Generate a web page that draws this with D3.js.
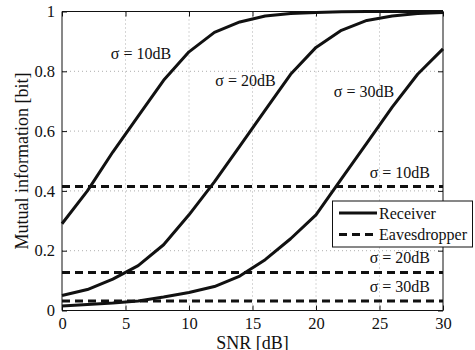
<!DOCTYPE html>
<html><head><meta charset="utf-8">
<script src="https://cdn.jsdelivr.net/npm/d3@7"></script>
<style>body{margin:0;background:#fff}svg{display:block}text{font-family:"Liberation Serif","Times New Roman",serif;fill:#111}</style>
</head><body>
<script>
const snr = [0,2,4,6,8,10,12,14,16,18,20,22,24,26,28,30];
const receiver10 = [0.29,0.40,0.53,0.65,0.77,0.865,0.93,0.965,0.985,0.993,0.997,0.999,1,1,1,1];
const receiver20 = [0.05,0.07,0.105,0.15,0.22,0.32,0.43,0.55,0.67,0.79,0.88,0.937,0.97,0.985,0.993,0.997];
const receiver30 = [0.015,0.02,0.025,0.032,0.045,0.06,0.08,0.115,0.17,0.24,0.32,0.44,0.56,0.68,0.79,0.875];
const eavesdropper = [0.415,0.127,0.032];
const sigmaLabels = ["σ = 10dB","σ = 20dB","σ = 30dB"];
const xTicks = [0,5,10,15,20,25,30];
const yTicks = [0,0.2,0.4,0.6,0.8,1];

const W=475,H=350;
const SERIF='"Liberation Serif","Times New Roman",serif';
const m={l:62,r:443,t:11.5,b:310.5};
const svg=d3.select("body").append("svg").attr("width",W).attr("height",H);
const x=d3.scaleLinear().domain([0,30]).range([m.l,m.r]);
const y=d3.scaleLinear().domain([0,1]).range([m.b,m.t]);

// grid
const g=svg.append("g");
g.selectAll(".gx").data(xTicks.slice(1,-1)).join("line")
 .attr("x1",d=>x(d)).attr("x2",d=>x(d)).attr("y1",m.t).attr("y2",m.b)
 .attr("stroke","#999").attr("stroke-width",0.8).attr("stroke-dasharray","1,3");
g.selectAll(".gy").data(yTicks.slice(1,-1)).join("line")
 .attr("x1",m.l).attr("x2",m.r).attr("y1",d=>y(d)).attr("y2",d=>y(d))
 .attr("stroke","#999").attr("stroke-width",0.8).attr("stroke-dasharray","1,3");

// axes
const fmtY=d=>d===0?"0":d===1?"1":d3.format(".1f")(d);
const ax=svg.append("g").attr("transform",`translate(0,${m.b})`)
 .call(d3.axisBottom(x).tickValues(xTicks).tickSize(-5).tickPadding(7).tickFormat(d3.format("d")));
const axT=svg.append("g").attr("transform",`translate(0,${m.t})`)
 .call(d3.axisTop(x).tickValues(xTicks).tickSize(-5).tickFormat(""));
const ay=svg.append("g").attr("transform",`translate(${m.l},0)`)
 .call(d3.axisLeft(y).tickValues(yTicks).tickSize(-5).tickPadding(7).tickFormat(fmtY));
const ayR=svg.append("g").attr("transform",`translate(${m.r},0)`)
 .call(d3.axisRight(y).tickValues(yTicks).tickSize(-5).tickFormat(""));
[ax,axT,ay,ayR].forEach(a=>{
 a.attr("font-family",SERIF).attr("font-size",16.5);
 a.select(".domain").attr("stroke","#111").attr("stroke-width",1);
 a.selectAll(".tick line").attr("stroke","#111");
 a.selectAll("text").attr("font-family",SERIF).attr("font-size",16.5).attr("fill","#111");});
ax.selectAll(".domain").attr("d",`M${m.l},0H${m.r}`);
axT.selectAll(".domain").attr("d",`M${m.l},0H${m.r}`);
ay.selectAll(".domain").attr("d",`M0,${m.t}V${m.b}`);
ayR.selectAll(".domain").attr("d",`M0,${m.t}V${m.b}`);

// eavesdropper lines
svg.selectAll(".eve").data(eavesdropper).join("line")
 .attr("x1",m.l).attr("x2",m.r).attr("y1",d=>y(d)).attr("y2",d=>y(d))
 .attr("stroke","#111").attr("stroke-width",3).attr("stroke-dasharray","8,5");

// receiver curves
const line=d3.line().x((d,i)=>x(snr[i])).y(d=>y(d));
[receiver10,receiver20,receiver30].forEach(s=>{
 svg.append("path").attr("d",line(s)).attr("fill","none").attr("stroke","#111")
  .attr("stroke-width",3).attr("stroke-linejoin","round");
});

// annotations
const ann=[[141,59],[245.5,86],[364,97]];
ann.forEach((p,i)=>svg.append("text").attr("x",p[0]).attr("y",p[1]).attr("text-anchor","middle")
 .attr("font-size",16).text(sigmaLabels[i]));
const annR=[178,263,291.5];
annR.forEach((yy,i)=>svg.append("text").attr("x",430).attr("y",yy).attr("text-anchor","end")
 .attr("font-size",16).text(sigmaLabels[i]));

// legend
const lg=svg.append("g");
lg.append("rect").attr("x",332.5).attr("y",201).attr("width",140).attr("height",46)
 .attr("fill","#fff").attr("stroke","#111").attr("stroke-width",1);
lg.append("line").attr("x1",339).attr("x2",377).attr("y1",213).attr("y2",213).attr("stroke","#111").attr("stroke-width",3);
lg.append("line").attr("x1",339).attr("x2",377).attr("y1",234.5).attr("y2",234.5).attr("stroke","#111").attr("stroke-width",3).attr("stroke-dasharray","8,5");
lg.append("text").attr("x",379).attr("y",218.5).attr("font-size",16).text("Receiver");
lg.append("text").attr("x",379).attr("y",240).attr("font-size",16).text("Eavesdropper");

// axis labels
svg.append("text").attr("x",(m.l+m.r)/2).attr("y",349).attr("text-anchor","middle").attr("font-size",18).text("SNR [dB]");
svg.append("text").attr("transform",`translate(28,${(m.t+m.b)/2}) rotate(-90)`).attr("text-anchor","middle").attr("font-size",18).text("Mutual information [bit]");
</script>
</body></html>
